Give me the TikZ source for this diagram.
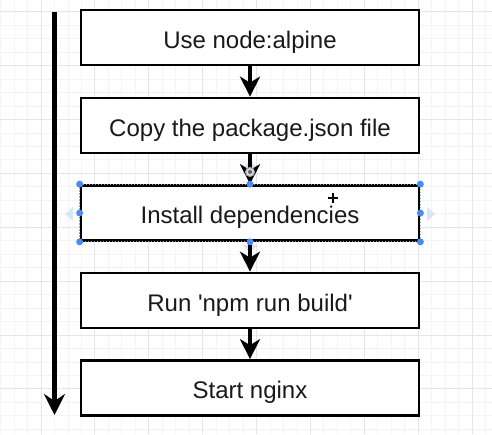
\documentclass[tikz,border=0pt]{standalone}
\usepackage{fontspec}
\setmainfont{Liberation Sans}
\usetikzlibrary{arrows.meta}
\definecolor{gridminor}{HTML}{F4F4F4}
\definecolor{gridmajor}{HTML}{E6E6E6}
\definecolor{handle}{HTML}{4A8CF0}
\definecolor{hoverblue}{HTML}{D8E5FB}
\definecolor{selline}{HTML}{9AA6BC}
\tikzset{
  stepbox/.style={draw=black, line width=2.7pt, fill=white, minimum width=338pt,
    minimum height=55pt, inner sep=0pt, text height=21.3pt, text depth=0pt,
    font=\fontsize{24}{28}\selectfont, text=black!90},
  flow/.style={line width=4pt, -{Stealth[length=20pt,width=20pt,inset=6pt]}},
  timeline/.style={line width=4.5pt, -{Stealth[length=21pt,width=21pt,inset=7pt]}},
  handledot/.style={circle, fill=handle, inner sep=0pt, minimum size=7pt},
  hover/.style={fill=hoverblue, draw=none},
  minorline/.style={gridminor, line width=0.8pt},
  majorline/.style={gridmajor, line width=0.9pt},
}
\begin{document}
\begin{tikzpicture}[x=1pt,y=-1pt]
\useasboundingbox (0,0) rectangle (492,434);
\fill[white] (0,0) rectangle (492,434);
% grid
\foreach \k in {0,...,36} \draw[minorline] ({0.6+13.47*\k},0) -- ({0.6+13.47*\k},434);
\foreach \k in {0,...,31} \draw[minorline] (0,{11.7+13.47*\k}) -- (492,{11.7+13.47*\k});
\foreach \k in {0,...,8} \draw[majorline] ({41+53.88*\k},0) -- ({41+53.88*\k},434);
\foreach \k in {0,...,7} \draw[majorline] (0,{11.7+53.88*\k}) -- (492,{11.7+53.88*\k});
% hover arrows of the selected box
\fill[hover] (65,214) -- (73,207) -- (73,221) -- cycle;
\fill[hover] (435,214) -- (427,207) -- (427,221) -- cycle;
\fill[hover] (250,160) -- (243,168) -- (257,168) -- cycle;
\fill[hover] (250,253) -- (243,245) -- (257,245) -- cycle;
% timeline arrow
\coordinate (tstart) at (54.5,12);
\coordinate (tend) at (54.5,415);
\draw[timeline] (tstart) -- (tend);
% boxes
\node[stepbox] (b1) at (250,37.5) {Use node:alpine};
\node[stepbox] (b2) at (250,125.5) {Copy the package.json file};
\node[stepbox] (b3) at (250,213) {Install dependencies};
\node[stepbox] (b4) at (250,300.5) {Run \textquotesingle npm run build\textquotesingle};
\node[stepbox] (b5) at (250,388) {Start nginx};
% connectors
\draw[flow] (b1.south) -- (b2.north);
\draw[flow] (b2.south) -- (b3.north);
\draw[flow] (b3.south) -- (b4.north);
\draw[flow] (b4.south) -- (b5.north);
% selection overlay
\draw[selline, line width=0.8pt, dash pattern=on 1.5pt off 1.5pt] (b3.north west) rectangle (b3.south east);
\foreach \a in {north west,north,north east,west,east,south west,south,south east}
  \node[handledot] at (b3.\a) {};
% connection icon
\draw[gray!70, line width=1pt, fill=gray!30] (250,172) circle (4.5pt);
\fill[gray!80!black] (250,172) circle (2pt);
% cursor
\draw[black, line width=1.1pt] (328,198) -- (338,198) (333,193) -- (333,203);
\end{tikzpicture}
\end{document}
